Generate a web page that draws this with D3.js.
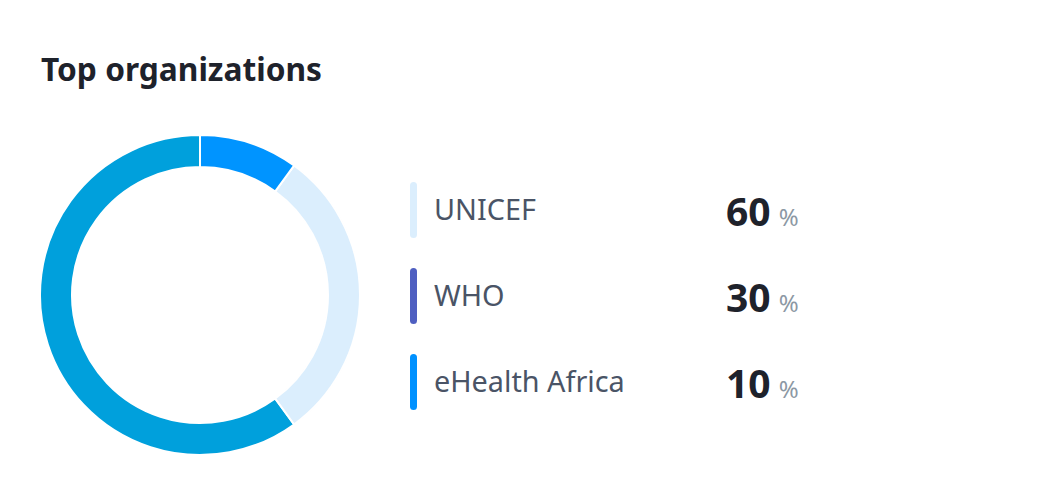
<!DOCTYPE html>
<html>
<head>
<meta charset="utf-8">
<script src="https://cdn.jsdelivr.net/npm/d3@7"></script>
<style>
  html, body { margin: 0; padding: 0; background: #fff; }
  svg { display: block; font-family: "Noto Sans", "Open Sans", sans-serif; }
</style>
</head>
<body>
<script>
// data
var organizations = ["UNICEF", "WHO", "eHealth Africa"];
var shares = [60, 30, 10];
var legendColors = ["#dbeefd", "#4f5fc1", "#0091ff"];
var arcColors = ["#00a0dc", "#dbeefd", "#0094ff"];

(function(){
  var width = 1058, height = 496;
  var svg = d3.select("body").append("svg")
    .attr("width", width)
    .attr("height", height);

  svg.append("text")
    .attr("x", 41).attr("y", 81)
    .attr("font-size", 31.7).attr("font-weight", 700)
    .attr("fill", "#1e222b")
    .text("Top organizations");

  var rows = organizations.map(function(o, i){
    return {name: o, share: shares[i], legend: legendColors[i], arc: arcColors[i]};
  });

  // donut, smallest slice first, clockwise from 12 o'clock
  var pie = d3.pie()
    .value(function(d){ return d.share; })
    .sort(function(a, b){ return d3.ascending(a.share, b.share); });
  var arc = d3.arc().innerRadius(128).outerRadius(160);

  var g = svg.append("g").attr("transform", "translate(200,295)");
  g.selectAll("path")
    .data(pie(rows))
    .enter().append("path")
    .attr("d", arc)
    .attr("fill", function(d){ return d.data.arc; })
    .attr("stroke", "#fff")
    .attr("stroke-width", 2);

  // legend
  var y = d3.scaleBand().domain(organizations).range([167, 425]);
  var item = svg.selectAll(".item")
    .data(rows)
    .enter().append("g")
    .attr("class", "item")
    .attr("transform", function(d){ return "translate(0," + (y(d.name) + y.bandwidth() / 2) + ")"; });

  item.append("rect")
    .attr("x", 410).attr("y", -28)
    .attr("width", 7).attr("height", 56)
    .attr("rx", 3.5)
    .attr("fill", function(d){ return d.legend; });

  item.append("text")
    .attr("x", 434).attr("y", 10)
    .attr("font-size", 28.8)
    .attr("fill", "#4a5466")
    .text(function(d){ return d.name; });

  var num = item.append("text")
    .attr("x", 726).attr("y", 16);
  num.append("tspan")
    .attr("font-size", 39).attr("font-weight", 700)
    .attr("fill", "#1e222b")
    .text(function(d){ return d.share; });
  num.append("tspan")
    .attr("dx", 8)
    .attr("font-size", 24)
    .attr("fill", "#8c98a4")
    .text("%");
})();
</script>
</body>
</html>
